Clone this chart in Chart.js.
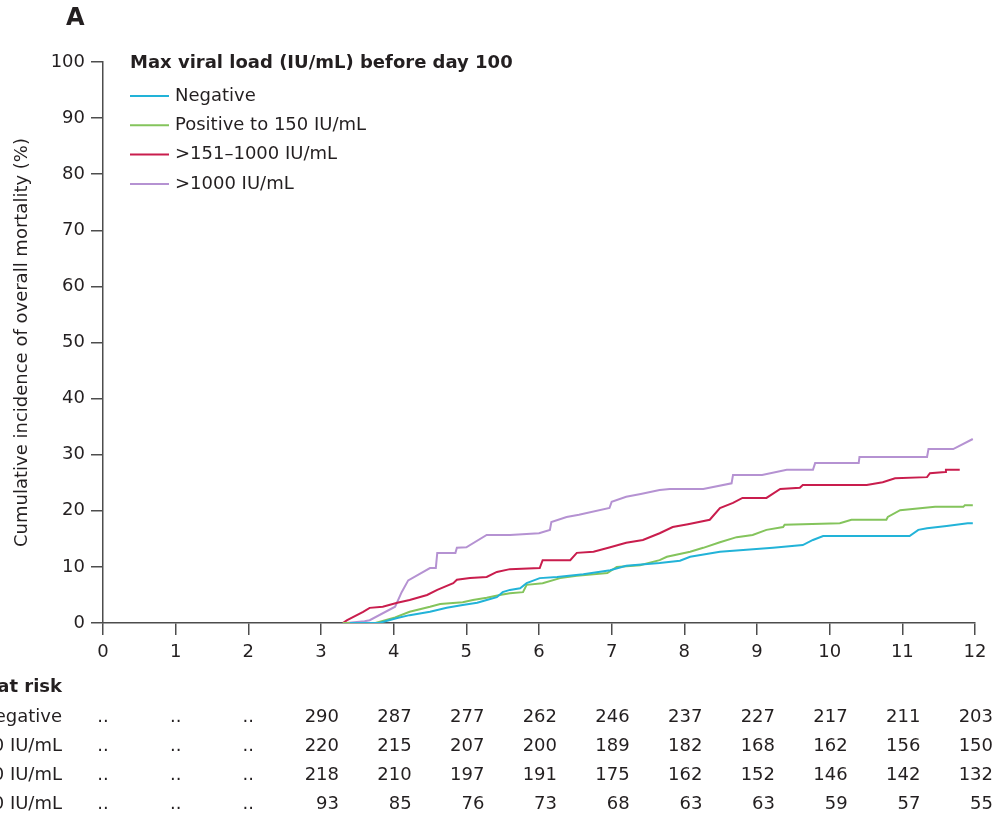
<!DOCTYPE html>
<html>
<head>
<meta charset="utf-8">
<script src="https://cdn.jsdelivr.net/npm/chart.js@4/dist/chart.umd.min.js"></script>
<style>
  html, body { margin: 0; padding: 0; background: #fff; }
  #wrap { width: 997px; height: 820px; position: relative; }
</style>
</head>
<body>
<div id="wrap"><canvas id="cif"></canvas></div>
<script>
// Curves: [month after transplant, cumulative incidence %]
const negative = [[3.4,0],[3.8,0],[4.05,0.9],[4.22,1.4],[4.5,2.0],[4.73,2.7],[4.95,3.2],[5.15,3.6],[5.28,4.1],[5.42,4.6],[5.5,5.5],[5.6,5.9],[5.74,6.2],[5.83,7.1],[6.01,8.0],[6.25,8.2],[6.61,8.7],[6.98,9.4],[7.2,10.2],[7.66,10.7],[7.94,11.1],[8.08,11.8],[8.49,12.7],[9.22,13.4],[9.63,13.9],[9.77,14.8],[9.91,15.5],[11.1,15.5],[11.22,16.6],[11.34,16.9],[11.61,17.3],[11.9,17.8],[11.97,17.8]];
const upTo150 = [[3.3,0],[3.75,0],[4.02,1.0],[4.22,2.0],[4.5,2.9],[4.64,3.4],[4.95,3.7],[5.09,4.1],[5.28,4.5],[5.46,5.0],[5.6,5.3],[5.78,5.5],[5.83,6.8],[6.05,7.1],[6.29,8.0],[6.52,8.4],[6.94,8.9],[7.07,10.0],[7.39,10.3],[7.66,11.2],[7.76,11.8],[8.08,12.7],[8.26,13.4],[8.49,14.4],[8.72,15.3],[8.94,15.7],[9.13,16.6],[9.36,17.1],[9.38,17.5],[10.14,17.8],[10.3,18.4],[10.78,18.4],[10.8,18.9],[10.97,20.1],[11.45,20.7],[11.84,20.7],[11.86,21.0],[11.97,21.0]];
const to1000 = [[3.3,0],[3.36,0.5],[3.58,2.0],[3.67,2.7],[3.85,2.9],[4.05,3.6],[4.22,4.1],[4.46,5.0],[4.6,5.9],[4.82,7.1],[4.87,7.7],[5.05,8.0],[5.28,8.2],[5.42,9.1],[5.6,9.6],[6.01,9.8],[6.05,11.2],[6.43,11.2],[6.52,12.5],[6.75,12.7],[6.98,13.5],[7.2,14.3],[7.43,14.8],[7.66,16.0],[7.84,17.1],[8.05,17.6],[8.35,18.4],[8.49,20.5],[8.67,21.4],[8.8,22.3],[9.13,22.3],[9.32,23.9],[9.59,24.1],[9.63,24.6],[10.51,24.6],[10.73,25.1],[10.9,25.8],[11.34,26.0],[11.38,26.7],[11.59,26.9],[11.6,27.3],[11.79,27.3]];
const over1000 = [[3.35,0],[3.6,0.3],[3.67,0.5],[4.02,2.9],[4.11,5.5],[4.2,7.6],[4.5,9.8],[4.58,9.8],[4.6,12.5],[4.85,12.5],[4.87,13.4],[5.0,13.5],[5.28,15.7],[5.6,15.7],[6.0,16.0],[6.15,16.6],[6.17,18.0],[6.38,18.9],[6.55,19.3],[6.97,20.5],[7.0,21.6],[7.2,22.5],[7.4,23.0],[7.66,23.7],[7.8,23.9],[8.26,23.9],[8.65,24.9],[8.67,26.4],[9.07,26.4],[9.41,27.3],[9.77,27.3],[9.8,28.5],[10.4,28.5],[10.41,29.6],[11.34,29.6],[11.36,31.0],[11.7,31.0],[11.97,32.8]];

const groupLabels = ['Negative', 'Positive to 150 IU/mL', '>151\u20131000 IU/mL', '>1000 IU/mL'];
const groupColors = ['#22b3d8', '#84c45c', '#c91d4d', '#b592d2'];

// Number at risk, one value per month 0..12 (null shows as "..")
const months = [0,1,2,3,4,5,6,7,8,9,10,11,12];
const riskNegative = [null,null,null,290,287,277,262,246,237,227,217,211,203];
const riskUpTo150  = [null,null,null,220,215,207,200,189,182,168,162,156,150];
const riskTo1000   = [null,null,null,218,210,197,191,175,162,152,146,142,132];
const riskOver1000 = [null,null,null,93,85,76,73,68,63,63,59,57,55];

const FONT = '"DejaVu Sans", sans-serif';
const INK = '#231f20';
const AXIS = '#4d4d4d';

const toPts = arr => arr.map(p => ({ x: p[0], y: p[1] }));

// Legend + panel letter + number-at-risk table
const extrasPlugin = {
    id: 'extras',
    afterDraw(chart) {
        const ctx = chart.ctx;
        const xs = chart.scales.x;
        ctx.save();
        ctx.fillStyle = INK;
        ctx.textBaseline = 'middle';

        // panel letter
        ctx.font = 'bold 24px ' + FONT;
        ctx.textAlign = 'left';
        ctx.fillText('A', 66, 19);

        // legend
        ctx.font = 'bold 18px ' + FONT;
        ctx.fillText('Max viral load (IU/mL) before day 100', 130, 63);
        ctx.font = '18px ' + FONT;
        groupLabels.forEach((lab, i) => {
            const y = 96 + i * 29.3;
            ctx.strokeStyle = groupColors[i];
            ctx.lineWidth = 2;
            ctx.beginPath();
            ctx.moveTo(130, y);
            ctx.lineTo(169, y);
            ctx.stroke();
            ctx.fillText(lab, 175, y);
        });

        // number at risk
        ctx.font = 'bold 18px ' + FONT;
        ctx.textAlign = 'right';
        ctx.fillText('Number at risk', 62, 687);
        ctx.font = '18px ' + FONT;
        const rows = [riskNegative, riskUpTo150, riskTo1000, riskOver1000];
        rows.forEach((row, r) => {
            const y = 717 + r * 29.2;
            ctx.textAlign = 'right';
            ctx.fillText(groupLabels[r], 62, y);
            months.forEach((m, i) => {
                const px = xs.getPixelForValue(m);
                if (row[i] === null) {
                    ctx.textAlign = 'center';
                    ctx.fillText('..', px, y);
                } else {
                    ctx.textAlign = 'right';
                    ctx.fillText(String(row[i]), px + 18, y);
                }
            });
        });
        ctx.restore();
    }
};

const ctxCif = document.getElementById('cif').getContext('2d');
const cifChart = new Chart(ctxCif, {
    type: 'line',
    data: {
        datasets: [negative, upTo150, to1000, over1000].map((d, i) => ({
            label: groupLabels[i],
            data: toPts(d),
            borderColor: groupColors[i],
            borderWidth: 2,
            pointRadius: 0,
            tension: 0,
            fill: false
        }))
    },
    options: {
        responsive: true,
        maintainAspectRatio: false,
        animation: false,
        layout: { padding: { top: 62, right: 22, bottom: 0, left: 0 } },
        plugins: {
            legend: { display: false },
            tooltip: { enabled: false }
        },
        scales: {
            x: {
                type: 'linear',
                min: 0,
                max: 12,
                afterFit: s => { s.height = 197; },
                border: { display: true, color: AXIS, width: 1.5 },
                grid: { drawOnChartArea: false, drawTicks: true, tickLength: 12, color: AXIS, lineWidth: 1.5 },
                ticks: { stepSize: 1, color: INK, padding: 7, font: { family: FONT, size: 18 }, maxRotation: 0 }
            },
            y: {
                min: 0,
                max: 100,
                afterFit: s => { s.width = 103; },
                border: { display: true, color: AXIS, width: 1.5 },
                grid: { drawOnChartArea: false, drawTicks: true, tickLength: 12, color: AXIS, lineWidth: 1.5 },
                ticks: { stepSize: 10, color: INK, padding: 6, font: { family: FONT, size: 18 } },
                title: {
                    display: true,
                    text: 'Cumulative incidence of overall mortality (%)',
                    color: INK,
                    font: { family: FONT, size: 18 },
                    padding: { top: 12, bottom: 0 }
                }
            }
        }
    },
    plugins: [extrasPlugin]
});
</script>
</body>
</html>
